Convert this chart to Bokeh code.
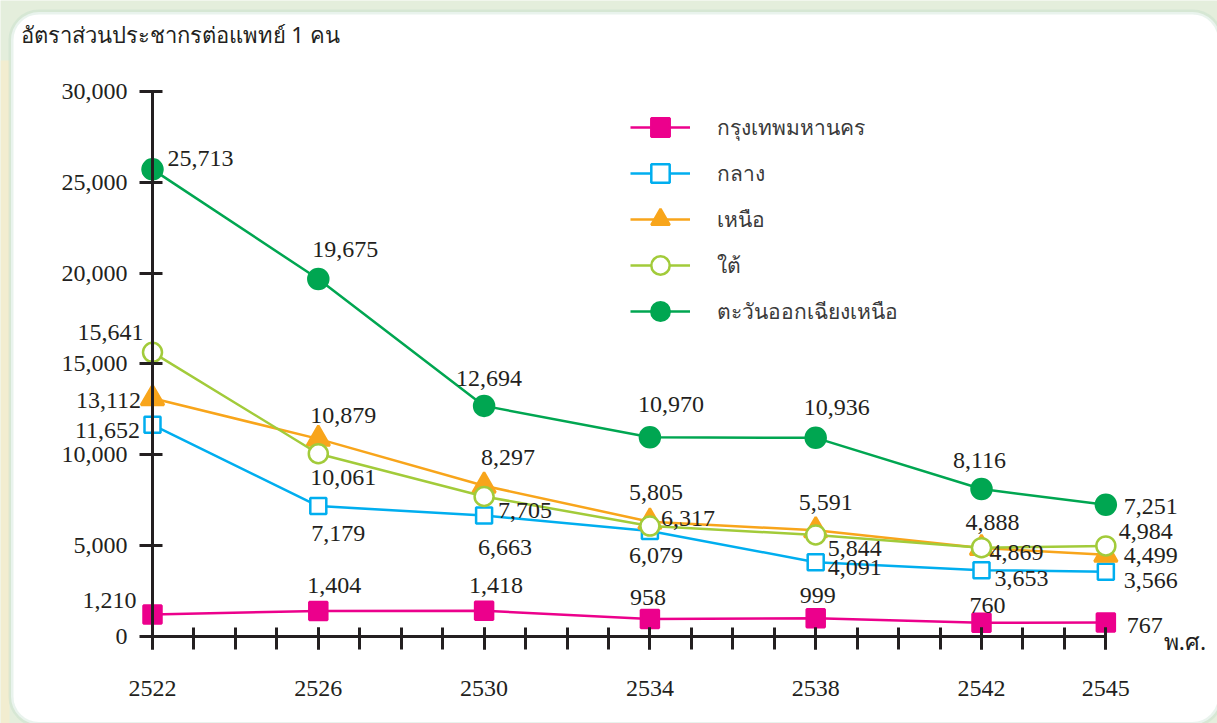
from bokeh.plotting import figure
from bokeh.models import (ColumnDataSource, FixedTicker, NumeralTickFormatter, Legend,
                          LegendItem, BoxAnnotation, Label, LinearAxis)
from bokeh.core.properties import value
from bokeh.embed import file_html
from bokeh.resources import INLINE

# ---------------- data ----------------
years = [2522, 2526, 2530, 2534, 2538, 2542, 2545]
bangkok = [1210, 1404, 1418, 958, 999, 760, 767]
central = [11652, 7179, 6663, 5805, 4091, 3653, 3566]
north = [13112, 10879, 8297, 6317, 5844, 4869, 4499]
south = [15641, 10061, 7705, 6079, 5591, 4888, 4984]
northeast = [25713, 19675, 12694, 10970, 10936, 8116, 7251]
series_names = ["กรุงเทพมหานคร", "กลาง", "เหนือ", "ใต้", "ตะวันออกเฉียงเหนือ"]
y_ticks = [0, 5000, 10000, 15000, 20000, 25000, 30000]
x_ticks = [2522, 2526, 2530, 2534, 2538, 2542, 2545]
x_minor = list(range(2522, 2546))
y_title = "อัตราส่วนประชากรต่อแพทย์ 1 คน"
x_unit = "พ.ศ."

# ---------------- label offsets (pixels, +down) ----------------
bangkok_dx = [-43, 16, 12, -2, 2, 6, 39]
bangkok_dy = [-14, -25, -25, -22, -23, -17, 3]
central_dx = [-45, 20, 21, 6, 39, 40, 45]
central_dy = [6, 27, 32, -39, 5, 8, 9]
north_dx = [-44, 25, 24, 38, 39, 35, 45]
north_dy = [2, -23, -28, -3, 18, 4, 1]
south_dx = [-42, 25, 41, 6, 10, 11, 40]
south_dy = [-20, 24, 14, 29, -32, -25, -14]
ne_dx = [48, 27, 5, 21, 21, -2, 45]
ne_dy = [-11, -30, -27, -33, -30, -29, 2]

NUM_FONT = "Liberation Serif"
THAI_FONT = "Noto Sans"
INK = "#231f20"

W, H = 1217, 723
X0, PX_PER_YEAR = 152, 41.45      # pixel of first year, pixels per year
Y0, PX_PER_UNIT = 636, 0.018167   # pixel of zero, pixels per unit
xs = 2522 - X0 / PX_PER_YEAR
xe = 2522 + (W - X0) / PX_PER_YEAR
ye = Y0 / PX_PER_UNIT
ys = -(H - Y0) / PX_PER_UNIT

def dx_(px):
    return xs + px / PX_PER_YEAR

def dy_(py):
    return (Y0 - py) / PX_PER_UNIT

p = figure(width=W, height=H, x_range=(xs, xe), y_range=(ys, ye),
           output_backend="svg", toolbar_location=None, x_axis_type=None, y_axis_type=None,
           min_border=0, min_border_left=0, min_border_right=0, min_border_top=0,
           min_border_bottom=0)
p.outline_line_color = None
p.grid.visible = False
p.background_fill_color = "#e4eedc"
p.border_fill_color = "#e4eedc"

p.add_layout(BoxAnnotation(left=xs, right=dx_(9), top=dy_(60), bottom=ys,
                           fill_color="#f2edd0", fill_alpha=1, line_alpha=0, level="underlay"))
p.add_layout(BoxAnnotation(left=dx_(10.5), right=dx_(1220), top=dy_(11.5), bottom=dy_(724),
                           fill_color="white", fill_alpha=1, line_color="#b7d7c4",
                           line_width=5, border_radius=28, level="underlay"))

# axes
xaxis = LinearAxis(fixed_location=0, bounds=(2522, 2545))
xaxis.ticker = FixedTicker(ticks=x_ticks, minor_ticks=x_minor)
xaxis.axis_line_width = 3
xaxis.axis_line_color = INK
xaxis.major_tick_line_width = 3
xaxis.minor_tick_line_width = 3
xaxis.major_tick_line_color = INK
xaxis.minor_tick_line_color = INK
xaxis.major_tick_in = 9
xaxis.major_tick_out = 13
xaxis.minor_tick_in = 9
xaxis.minor_tick_out = 13
xaxis.major_label_standoff = 31
xaxis.major_label_text_font = NUM_FONT
xaxis.major_label_text_font_size = "24px"
xaxis.major_label_text_color = INK
p.add_layout(xaxis, "below")

yaxis = LinearAxis(fixed_location=2522, bounds=(0, 30000))
yaxis.ticker = FixedTicker(ticks=y_ticks, minor_ticks=[])
yaxis.formatter = NumeralTickFormatter(format="0,0")
yaxis.axis_line_width = 3
yaxis.axis_line_color = INK
yaxis.major_tick_line_width = 3
yaxis.major_tick_line_color = INK
yaxis.major_tick_in = 10
yaxis.major_tick_out = 13
yaxis.minor_tick_line_color = None
yaxis.major_label_standoff = 12
yaxis.major_label_text_font = NUM_FONT
yaxis.major_label_text_font_size = "24px"
yaxis.major_label_text_color = INK
p.add_layout(yaxis, "left")

series = [
    (bangkok, "#ec008c", "square", 18, "#ec008c", bangkok_dx, bangkok_dy),
    (central, "#00aeef", "square", 16, "white", central_dx, central_dy),
    (north, "#f8a51b", "triangle", 23, "#f8a51b", north_dx, north_dy),
    (south, "#a2cb3a", "circle", 19, "white", south_dx, south_dy),
    (northeast, "#00a651", "circle", 20, "#00a651", ne_dx, ne_dy),
]

items = []
for (vals, col, mk, sz, fill, dx, dy), name in zip(series, series_names):
    src = ColumnDataSource(dict(x=years, y=vals))
    lr = p.line("x", "y", source=src, line_color=col, line_width=2.5)
    sr = p.scatter("x", "y", source=src, marker=mk, size=sz, fill_color=fill,
                   line_color=col, line_width=2.5)
    items.append(LegendItem(label=name, renderers=[lr, sr]))

# data labels drawn on top
for (vals, col, mk, sz, fill, dx, dy) in series:
    src = ColumnDataSource(dict(x=years, y=vals, t=[f"{v:,}" for v in vals], dx=dx, dy=dy))
    p.text("x", "y", text="t", source=src, x_offset="dx", y_offset="dy",
           text_font=value(NUM_FONT), text_font_size="24px", text_color=INK,
           text_align="center", text_baseline="middle")

legend = Legend(items=items, location=(630, 389), glyph_width=60, glyph_height=46,
                label_height=46, spacing=0, padding=0, margin=0, label_standoff=27,
                label_text_font=THAI_FONT, label_text_font_size="21px",
                label_text_color="#3a3a3a", border_line_color=None,
                background_fill_alpha=0)
p.add_layout(legend)

p.add_layout(Label(x=dx_(20), y=dy_(33), text=y_title, text_font=THAI_FONT,
                   text_font_size="22px", text_color=INK, text_baseline="middle",
                   text_align="left"))
p.add_layout(Label(x=2545, y=0, x_offset=58, y_offset=-4, text=x_unit, text_font=THAI_FONT,
                   text_font_size="23px", text_color=INK, text_baseline="middle",
                   text_align="left"))

open("out.html", "w").write(file_html(p, INLINE))
